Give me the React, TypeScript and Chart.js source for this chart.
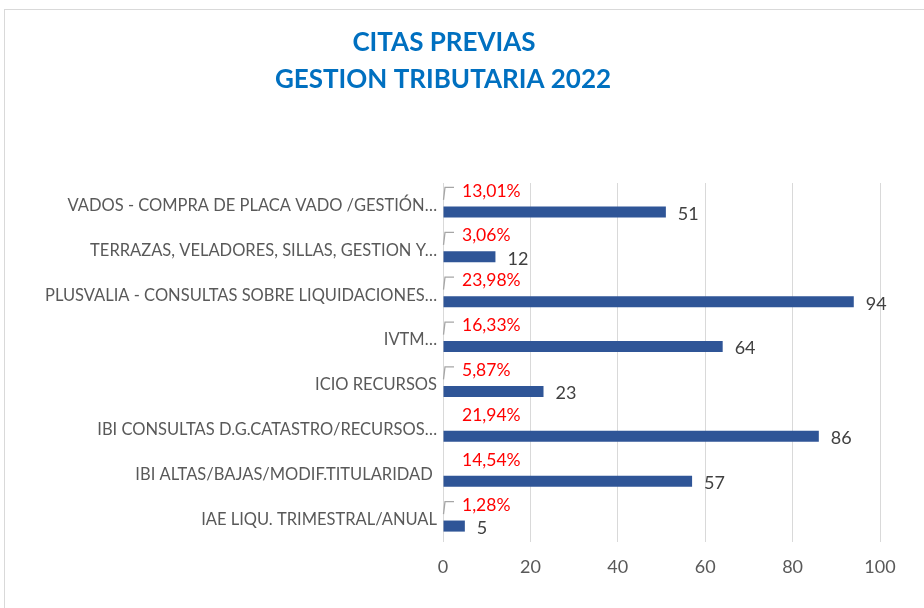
import React, { useEffect, useRef } from "react";
import { Chart, registerables } from "chart.js";

Chart.register(...registerables);

const titleLines = ["CITAS PREVIAS", "GESTION TRIBUTARIA 2022"];
const categories = [
  "VADOS - COMPRA DE PLACA VADO /GESTIÓN…",
  "TERRAZAS, VELADORES, SILLAS, GESTION Y…",
  "PLUSVALIA - CONSULTAS SOBRE LIQUIDACIONES…",
  "IVTM…",
  "ICIO RECURSOS",
  "IBI CONSULTAS D.G.CATASTRO/RECURSOS…",
  "IBI ALTAS/BAJAS/MODIF.TITULARIDAD ",
  "IAE LIQU. TRIMESTRAL/ANUAL",
];
const citas = [51, 12, 94, 64, 23, 86, 57, 5];
const porcentajes = ["13,01%", "3,06%", "23,98%", "16,33%", "5,87%", "21,94%", "14,54%", "1,28%"];
const conGuia = [true, true, true, true, true, false, false, true];
const espaciador = [0, 0, 0, 0, 0, 0, 0, 0];
const xMin = 0;
const xMax = 100;
const xStep = 20;

const FONT = "Lato";

const decorPlugin = {
  id: "decor",
  beforeDraw(chart: any) {
    const ctx = chart.ctx;
    ctx.save();
    ctx.fillStyle = "#ffffff";
    ctx.fillRect(0, 0, chart.width, chart.height);
    ctx.strokeStyle = "#D9D9D9";
    ctx.lineWidth = 1;
    ctx.strokeRect(4.5, 9.5, 2000, 2000);
    ctx.fillStyle = "#0070C0";
    ctx.font = `bold 26px ${FONT}`;
    ctx.textAlign = "center";
    ctx.textBaseline = "middle";
    ctx.fillText(titleLines[0], 444, 43);
    ctx.fillText(titleLines[1], 443, 80);
    ctx.restore();
  },
  afterDatasetsDraw(chart: any) {
    const ctx = chart.ctx;
    const meta = chart.getDatasetMeta(1);
    const left = chart.chartArea.left;
    ctx.save();
    meta.data.forEach((bar: any, i: number) => {
      ctx.font = `18px ${FONT}`;
      ctx.fillStyle = "#404040";
      ctx.textAlign = "left";
      ctx.textBaseline = "middle";
      ctx.fillText(String(citas[i]), bar.x + 12, bar.y + 2);

      const yP = bar.y - 21;
      ctx.fillStyle = "#FF0000";
      ctx.font = `17.5px ${FONT}`;
      ctx.fillText(porcentajes[i], left + 19, yP);
      if (conGuia[i]) {
        ctx.strokeStyle = "#A6A6A6";
        ctx.lineWidth = 1.3;
        ctx.beginPath();
        ctx.moveTo(left + 0.5, yP + 9);
        ctx.lineTo(left + 2, yP - 3.5);
        ctx.lineTo(left + 11, yP - 3.5);
        ctx.stroke();
      }
    });
    ctx.restore();
  },
};

export default function App() {
  const ref = useRef<HTMLCanvasElement>(null);
  useEffect(() => {
    if (!ref.current) return;
    const chart = new Chart(ref.current, {
      type: "bar",
      data: {
        labels: categories,
        datasets: [
          {
            label: "espaciador",
            data: espaciador,
            backgroundColor: "rgba(0,0,0,0)",
            categoryPercentage: 0.58,
            barPercentage: 0.85,
          },
          {
            label: "Citas",
            data: citas,
            backgroundColor: "#2F5597",
            categoryPercentage: 0.58,
            barPercentage: 0.85,
          },
        ],
      },
      options: {
        indexAxis: "y",
        animation: false,
        responsive: false,
        layout: { padding: { top: 183, right: 44, bottom: 0, left: 0 } },
        plugins: {
          legend: { display: false },
          tooltip: { enabled: false },
          title: { display: false },
        },
        scales: {
          x: {
            min: xMin,
            max: xMax,
            ticks: {
              stepSize: xStep,
              color: "#595959",
              font: { family: FONT, size: 18 },
              padding: 14,
            },
            grid: { color: "#D9D9D9", drawTicks: false },
            border: { display: false },
            afterFit(scale: any) {
              scale.height = 66;
            },
          },
          y: {
            ticks: {
              color: "#595959",
              font: { family: FONT, size: 16.5 },
              padding: 6,
              autoSkip: false,
            },
            grid: { display: false, drawTicks: false },
            border: { display: false },
            afterFit(scale: any) {
              scale.width = 443;
            },
          },
        },
      },
      plugins: [decorPlugin],
    });
    return () => chart.destroy();
  }, []);
  return (
    <div style={{ position: "fixed", left: 0, top: 0, width: 924, height: 608 }}>
      <canvas ref={ref} width={924} height={608} style={{ display: "block" }} />
    </div>
  );
}
